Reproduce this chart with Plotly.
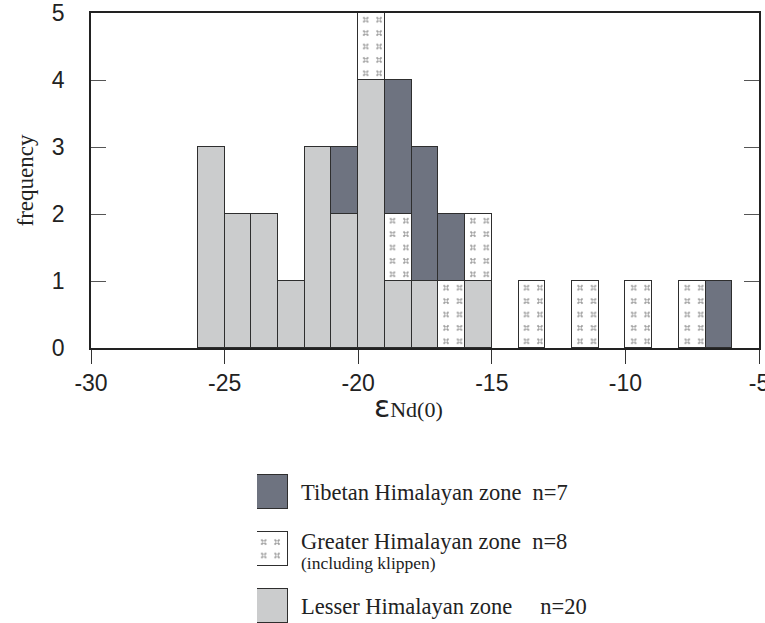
import plotly.graph_objects as go

# ---- data ----
BIN_CENTERS = [-25.5, -24.5, -23.5, -22.5, -21.5, -20.5, -19.5, -18.5, -17.5, -16.5,
               -15.5, -14.5, -13.5, -12.5, -11.5, -10.5, -9.5, -8.5, -7.5, -6.5]
LESSER   = [3, 2, 2, 1, 3, 2, 4, 1, 1, 0, 1, 0, 0, 0, 0, 0, 0, 0, 0, 0]
GREATER  = [0, 0, 0, 0, 0, 0, 1, 1, 0, 1, 1, 0, 1, 0, 1, 0, 1, 0, 1, 0]
TIBETAN  = [0, 0, 0, 0, 0, 1, 0, 2, 2, 1, 0, 0, 0, 0, 0, 0, 0, 0, 0, 1]
X_TICKS = [-30, -25, -20, -15, -10, -5]
X_TICK_LABELS = ["-30", "-25", "-20", "-15", "-10", "-5"]
Y_TICKS = [0, 1, 2, 3, 4, 5]
LEGEND_NAMES = ["Tibetan Himalayan zone", "Greater Himalayan zone", "Lesser Himalayan zone"]
LEGEND_N = [7, 8, 20]
LEGEND_GAPS = [2, 2, 5]
LEGEND_SUB = ["", "(including klippen)", ""]

# ---- style ----
DARK = "#6e7380"
LIGHT = "#cbcccd"
EDGE = "#2e2e2e"
W, H = 765, 623
ML, MR, MT, MB = 91, 6, 13, 0
PW, PH = W - ML - MR, H - MT - MB

def nz(v):
    return [x if x else None for x in v]

# small "x" glyph tile for the Greater Himalayan pattern
X_PATH = ("M4.9,3.6L9.8,8.5L8.5,9.8L3.6,4.9Z"
          "M4.9,9.8L9.8,4.9L8.5,3.6L3.6,8.5Z")
greater_pattern = dict(path=X_PATH, size=13.4, solidity=1,
                       fgcolor="#3a3a3a", bgcolor="white")

fig = go.Figure()
fig.add_trace(go.Bar(x=BIN_CENTERS, y=nz(LESSER), width=1, name=LEGEND_NAMES[2],
                     marker=dict(color=LIGHT, line=dict(color=EDGE, width=1))))
fig.add_trace(go.Bar(x=BIN_CENTERS, y=nz(GREATER), width=1, name=LEGEND_NAMES[1],
                     marker=dict(color="white", line=dict(color=EDGE, width=1),
                                 pattern=greater_pattern)))
fig.add_trace(go.Bar(x=BIN_CENTERS, y=nz(TIBETAN), width=1, name=LEGEND_NAMES[0],
                     marker=dict(color=DARK, line=dict(color=EDGE, width=1))))

# legend swatches on a hidden axis
sw_colors = [DARK, "white", LIGHT]
for i, nm in enumerate(LEGEND_NAMES):
    mk = dict(color=sw_colors[i], line=dict(color=EDGE, width=1))
    if i == 1:
        mk["pattern"] = greater_pattern
    fig.add_trace(go.Bar(x=[1], y=[nm], orientation="h", width=0.6, xaxis="x2", yaxis="y2",
                         marker=mk, showlegend=False, hoverinfo="skip"))

def py(px):
    return (H - MB - px) / PH
def px_(x):
    return (x - ML) / PW

ydom0 = py(348)
leg_top_px = 455
row_spacing = 57.0
first_row_px = 492.0
r_top = -(first_row_px - leg_top_px) / row_spacing
r_bot = (H - MB - first_row_px) / row_spacing

TICKFONT = dict(family="Liberation Sans, Arial", size=23, color="#222")
SERIF = "Liberation Serif, Times New Roman"

fig.update_layout(
    width=W, height=H, margin=dict(l=ML, r=MR, t=MT, b=MB, autoexpand=False),
    paper_bgcolor="white", plot_bgcolor="rgba(0,0,0,0)",
    barmode="stack", bargap=0, showlegend=False,
    xaxis=dict(range=[-30, -5], tickvals=X_TICKS, ticktext=X_TICK_LABELS,
               ticks="outside", ticklen=14, tickwidth=1.2, tickcolor="#333",
               showline=True, linecolor="#222", linewidth=1.6, mirror=True,
               showgrid=False, zeroline=False, automargin=False,
               ticklabeloverflow="allow",
               tickfont=TICKFONT, anchor="y"),
    yaxis=dict(domain=[ydom0, 1], range=[0, 5], tickvals=Y_TICKS, ticks="inside",
               ticklen=15, tickwidth=1.2, tickcolor="#555", showline=True,
               linecolor="#222", linewidth=1.6, mirror="ticks", showgrid=False,
               zeroline=False, ticklabelstandoff=20, automargin=False,
               tickfont=TICKFONT,
               title=dict(text="frequency", standoff=12,
                          font=dict(family=SERIF, size=23, color="#222"))),
    xaxis2=dict(domain=[px_(257), px_(288)], range=[0, 1], visible=False, anchor="y2",
                automargin=False),
    yaxis2=dict(domain=[0, py(leg_top_px)], type="category", categoryorder="array",
                categoryarray=LEGEND_NAMES, range=[r_bot, r_top], visible=False,
                anchor="x2", automargin=False),
)

# x-axis title (epsilon Nd(0))
fig.add_annotation(
    xref="paper", yref="paper", x=px_(408), y=py(406), xanchor="center", yanchor="middle",
    showarrow=False,
    text=("<span style='font-family:DejaVu Sans;font-size:30px'>\u03b5</span>"
          "<span style='font-family:Liberation Serif;font-size:22px'>Nd(0)</span>"),
    font=dict(color="#222", family=SERIF, size=22))

# legend texts
shifts = [0, 8, 0]
for i, nm in enumerate(LEGEND_NAMES):
    txt = nm + "\u00a0" * LEGEND_GAPS[i] + "n=" + str(LEGEND_N[i])
    fig.add_annotation(xref="paper", yref="y2", x=px_(299), y=nm, xanchor="left",
                       yanchor="middle", showarrow=False, yshift=shifts[i], text=txt,
                       font=dict(family=SERIF, size=22.5, color="#222"))
    if LEGEND_SUB[i]:
        fig.add_annotation(xref="paper", yref="y2", x=px_(299), y=nm, xanchor="left",
                           yanchor="middle", showarrow=False, yshift=-14,
                           text=LEGEND_SUB[i],
                           font=dict(family=SERIF, size=17.5, color="#222"))

fig.write_html("out.html", config={"displayModeBar": False},
               post_script="document.body.style.margin='0';document.body.style.overflow='hidden';")
